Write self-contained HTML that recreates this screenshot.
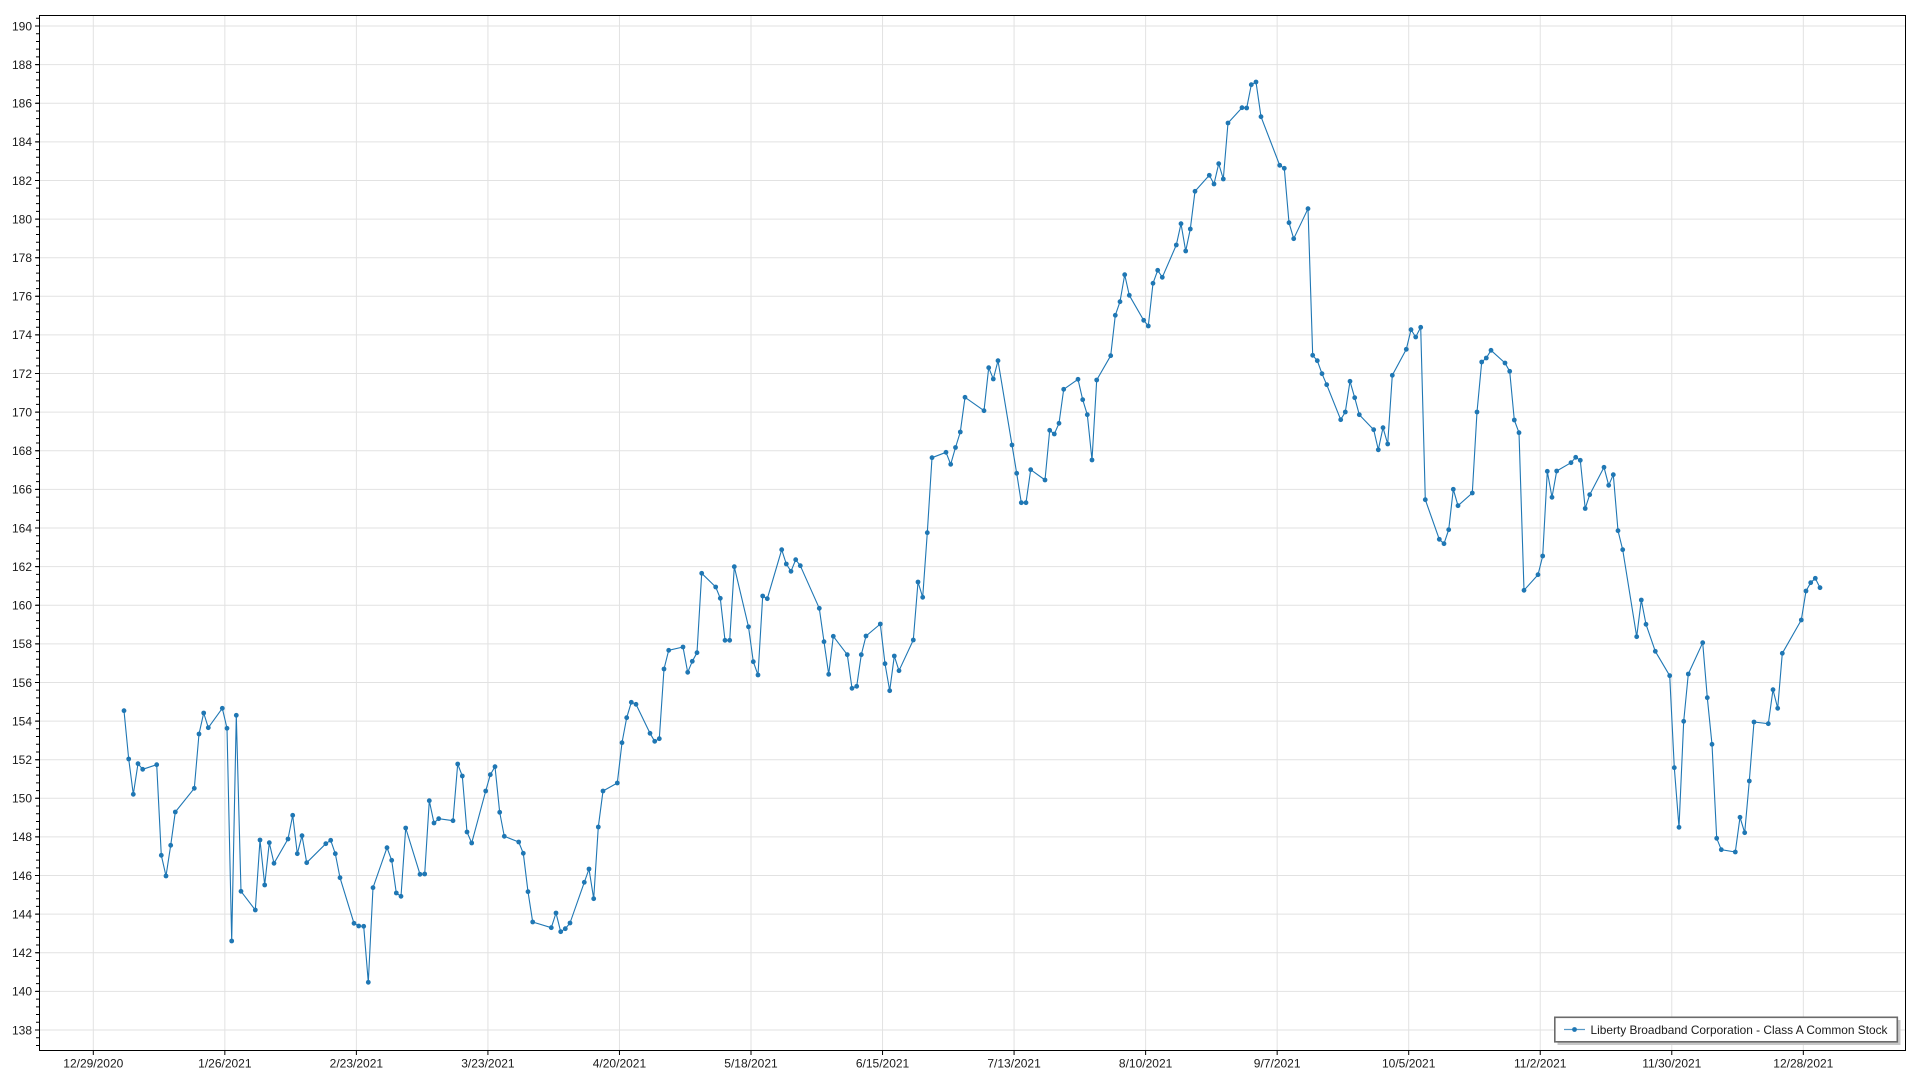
<!DOCTYPE html>
<html>
<head>
<meta charset="utf-8">
<style>
html,body{margin:0;padding:0;background:#fff;}
svg{display:block;}
text{font-family:"Liberation Sans",sans-serif;font-size:12px;fill:#1a1a1a;}
</style>
</head>
<body>
<svg width="1920" height="1080" viewBox="0 0 1920 1080" xmlns="http://www.w3.org/2000/svg">
<defs>
<marker id="m" markerWidth="6" markerHeight="6" refX="3" refY="3" markerUnits="userSpaceOnUse">
<circle cx="3" cy="3" r="2.4" fill="#1f77b4"/>
</marker>
</defs>
<rect x="0" y="0" width="1920" height="1080" fill="#fff"/>
<!-- horizontal grid -->
<path stroke="#e2e2e2" stroke-width="1" fill="none" d="M40,1030H1905M40,991.38H1905M40,952.77H1905M40,914.15H1905M40,875.54H1905M40,836.92H1905M40,798.31H1905M40,759.69H1905M40,721.08H1905M40,682.46H1905M40,643.85H1905M40,605.23H1905M40,566.62H1905M40,528H1905M40,489.38H1905M40,450.77H1905M40,412.15H1905M40,373.54H1905M40,334.92H1905M40,296.31H1905M40,257.69H1905M40,219.08H1905M40,180.46H1905M40,141.85H1905M40,103.23H1905M40,64.62H1905M40,26H1905"/>
<!-- vertical grid -->
<path stroke="#e2e2e2" stroke-width="1" fill="none" d="M93.3,15V1050M224.84,15V1050M356.38,15V1050M487.92,15V1050M619.46,15V1050M751,15V1050M882.54,15V1050M1014.08,15V1050M1145.62,15V1050M1277.16,15V1050M1408.7,15V1050M1540.24,15V1050M1671.78,15V1050M1803.32,15V1050"/>
<!-- frame -->
<rect x="39.5" y="15.5" width="1866" height="1035" fill="none" stroke="#000" stroke-width="1"/>
<!-- minor y ticks -->
<line x1="37.5" y1="1045.95" x2="37.5" y2="16" stroke="#000" stroke-width="3" stroke-dasharray="1 6.7231"/>
<!-- major y ticks -->
<path stroke="#000" stroke-width="1" fill="none" d="M35,1030H40M35,991.38H40M35,952.77H40M35,914.15H40M35,875.54H40M35,836.92H40M35,798.31H40M35,759.69H40M35,721.08H40M35,682.46H40M35,643.85H40M35,605.23H40M35,566.62H40M35,528H40M35,489.38H40M35,450.77H40M35,412.15H40M35,373.54H40M35,334.92H40M35,296.31H40M35,257.69H40M35,219.08H40M35,180.46H40M35,141.85H40M35,103.23H40M35,64.62H40M35,26H40"/>
<!-- x ticks -->
<path stroke="#000" stroke-width="1" fill="none" d="M93.3,1050V1055M224.84,1050V1055M356.38,1050V1055M487.92,1050V1055M619.46,1050V1055M751,1050V1055M882.54,1050V1055M1014.08,1050V1055M1145.62,1050V1055M1277.16,1050V1055M1408.7,1050V1055M1540.24,1050V1055M1671.78,1050V1055M1803.32,1050V1055"/>
<!-- y labels -->
<g text-anchor="end">
<text x="32" y="1034.3">138</text>
<text x="32" y="995.7">140</text>
<text x="32" y="957.1">142</text>
<text x="32" y="918.5">144</text>
<text x="32" y="879.8">146</text>
<text x="32" y="841.2">148</text>
<text x="32" y="802.6">150</text>
<text x="32" y="764">152</text>
<text x="32" y="725.4">154</text>
<text x="32" y="686.8">156</text>
<text x="32" y="648.1">158</text>
<text x="32" y="609.5">160</text>
<text x="32" y="570.9">162</text>
<text x="32" y="532.3">164</text>
<text x="32" y="493.7">166</text>
<text x="32" y="455.1">168</text>
<text x="32" y="416.5">170</text>
<text x="32" y="377.8">172</text>
<text x="32" y="339.2">174</text>
<text x="32" y="300.6">176</text>
<text x="32" y="262">178</text>
<text x="32" y="223.4">180</text>
<text x="32" y="184.8">182</text>
<text x="32" y="146.1">184</text>
<text x="32" y="107.5">186</text>
<text x="32" y="68.9">188</text>
<text x="32" y="30.3">190</text>
</g>
<!-- x labels -->
<g text-anchor="middle">
<text x="93.3" y="1067.5">12/29/2020</text>
<text x="224.84" y="1067.5">1/26/2021</text>
<text x="356.38" y="1067.5">2/23/2021</text>
<text x="487.92" y="1067.5">3/23/2021</text>
<text x="619.46" y="1067.5">4/20/2021</text>
<text x="751" y="1067.5">5/18/2021</text>
<text x="882.54" y="1067.5">6/15/2021</text>
<text x="1014.08" y="1067.5">7/13/2021</text>
<text x="1145.62" y="1067.5">8/10/2021</text>
<text x="1277.16" y="1067.5">9/7/2021</text>
<text x="1408.7" y="1067.5">10/5/2021</text>
<text x="1540.24" y="1067.5">11/2/2021</text>
<text x="1671.78" y="1067.5">11/30/2021</text>
<text x="1803.32" y="1067.5">12/28/2021</text>
</g>
<!-- series -->
<polyline fill="none" stroke="#1f77b4" stroke-width="1.1" stroke-linejoin="round" marker-start="url(#m)" marker-mid="url(#m)" marker-end="url(#m)" points="
124.0,710.7 128.7,759.0 133.3,794.3 138.0,763.7 142.7,769.3 156.7,764.7 161.3,855.3 166.0,876.0 170.7,845.3 175.3,812.0
194.3,788.3 199.0,734.0 203.7,713.0 208.3,727.7 222.3,708.3 227.0,728.3 231.7,941.0 236.3,715.3 241.0,891.3 255.3,910.0
260.0,840.0 264.7,885.0 269.3,842.7 274.0,863.3 288.0,839.0 292.7,815.3 297.3,853.7 302.0,835.7 306.7,862.7 325.8,843.7
330.7,840.3 335.3,853.7 340.0,877.7 354.0,923.3 358.7,926.0 363.7,926.3 368.3,982.3 373.0,887.7 387.0,847.7 391.7,860.3
396.3,893.0 401.0,896.3 405.7,828.0 420.0,874.3 424.7,874.0 429.3,800.7 434.0,823.0 438.7,818.7 453.0,820.7 457.7,764.0
462.3,776.0 467.0,832.0 471.7,843.0 485.7,791.0 490.3,774.7 495.0,766.7 499.7,812.3 504.3,836.3 518.7,842.0 523.3,853.3
528.0,891.7 532.7,922.0 551.3,927.7 556.0,913.0 560.7,931.7 565.3,928.7 570.0,923.0 584.3,882.3 589.0,869.0 593.7,898.7
598.3,827.0 603.0,791.0 617.3,783.0 622.0,742.7 626.7,717.7 631.3,702.3 636.0,704.3 650.0,733.3 654.7,741.3 659.3,738.7
664.0,669.0 668.7,650.3 683.0,647.0 687.7,672.3 692.3,661.3 697.0,652.7 701.7,573.3 715.7,587.0 720.3,598.3 725.0,640.3
729.7,640.3 734.3,566.7 748.5,626.8 753.3,661.7 758.0,675.0 762.7,596.0 767.3,598.7 781.7,549.7 786.3,564.0 791.0,571.3
795.7,559.7 800.3,565.7 819.3,608.3 824.0,641.7 828.7,674.3 833.3,636.3 847.3,654.7 852.0,688.3 856.7,686.3 861.3,654.7
866.0,636.0 880.3,624.0 885.0,663.7 889.7,690.7 894.3,656.0 899.0,670.7 913.3,640.0 918.0,582.0 922.7,597.3 927.3,532.7
932.0,457.7 946.0,452.3 950.7,464.3 955.5,447.5 960.3,432.0 965.0,397.3 984.0,410.7 988.7,367.7 993.3,379.0 998.0,360.7
1012.0,445.0 1016.7,473.3 1021.3,502.7 1026.0,502.7 1030.7,469.7 1045.0,480.0 1049.7,430.3 1054.3,434.0 1059.0,423.3 1063.7,389.3
1078.0,379.3 1082.7,399.7 1087.3,414.7 1092.0,460.0 1096.7,380.0 1110.7,355.7 1115.3,315.3 1120.0,301.7 1124.7,274.7 1129.3,295.3
1143.7,320.3 1148.3,326.0 1153.0,283.3 1157.7,270.3 1162.3,277.3 1176.3,245.0 1181.0,223.7 1185.7,251.0 1190.3,229.0 1195.0,191.3
1209.3,175.3 1214.0,184.0 1218.7,163.7 1223.3,179.0 1228.0,123.0 1242.0,107.7 1246.7,108.0 1251.3,84.7 1256.0,82.0 1261.0,116.7
1279.7,165.3 1284.3,168.3 1289.0,222.7 1293.7,238.7 1308.0,208.7 1312.7,355.3 1317.3,360.7 1322.0,373.7 1326.7,384.7 1340.7,419.7
1345.3,412.0 1350.0,381.3 1354.7,397.7 1359.3,414.7 1373.7,429.7 1378.3,449.8 1383.0,427.7 1387.7,444.0 1392.3,375.3 1406.3,349.3
1411.0,329.7 1415.7,337.0 1420.7,327.3 1425.3,499.7 1439.3,539.3 1444.0,543.7 1448.7,529.7 1453.3,489.3 1458.0,505.7 1472.3,493.0
1477.0,412.0 1481.7,362.0 1486.3,358.0 1491.0,350.3 1505.0,363.0 1509.7,371.3 1514.3,420.0 1519.0,432.7 1524.0,590.3 1538.0,574.7
1542.7,556.0 1547.3,471.3 1552.0,497.3 1556.7,471.0 1571.0,462.7 1575.7,457.3 1580.3,460.3 1585.2,508.5 1589.7,494.7 1604.0,467.3
1608.7,485.3 1613.3,474.7 1618.0,530.7 1622.7,549.7 1636.7,636.7 1641.3,600.0 1646.0,624.3 1655.3,651.3 1669.7,675.7 1674.3,767.7
1679.0,827.3 1683.7,721.3 1688.3,674.0 1702.7,642.7 1707.3,697.7 1712.0,744.3 1716.7,838.3 1721.3,849.7 1735.3,852.0 1740.0,817.3
1744.7,832.7 1749.3,781.0 1754.0,722.0 1768.3,723.7 1773.0,689.7 1777.7,708.3 1782.3,653.3 1801.3,620.0 1806.0,591.0 1810.7,582.7
1815.3,578.3 1820.0,587.7"/>
<!-- legend -->
<rect x="1557.5" y="1020" width="343" height="25" fill="#c8c8c8"/>
<rect x="1554.8" y="1017.3" width="342.5" height="24.5" fill="#fff" stroke="#6b6b6b" stroke-width="1.6"/>
<line x1="1564" y1="1029.5" x2="1585" y2="1029.5" stroke="#1f77b4" stroke-width="1.3" opacity="0.75"/>
<circle cx="1574.5" cy="1029.5" r="2.4" fill="#1f77b4"/>
<text x="1590.5" y="1033.8" textLength="297" lengthAdjust="spacingAndGlyphs">Liberty Broadband Corporation - Class A Common Stock</text>
</svg>
</body>
</html>
